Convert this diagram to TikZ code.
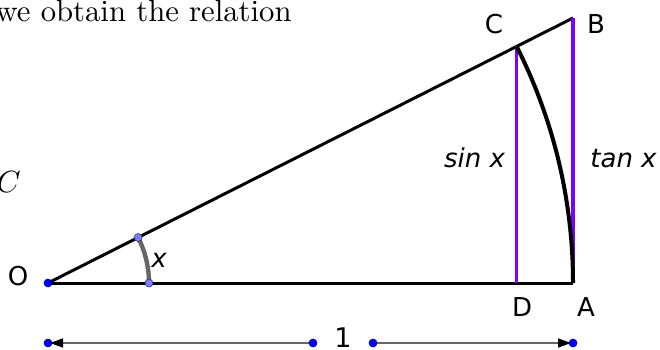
\documentclass[tikz,border=0pt]{standalone}
\usepackage{fontspec}
\newfontfamily\labelfont{DejaVu Sans}
\usepackage{xcolor}
\usetikzlibrary{calc,arrows.meta}

\definecolor{violetline}{RGB}{127,0,255}
\definecolor{ptblue}{RGB}{0,0,255}
\definecolor{ptlight}{RGB}{125,125,255}
\definecolor{arcgray}{RGB}{102,102,102}

\tikzset{
  side/.style={line width=3pt, black},
  vline/.style={line width=3.2pt, violetline},
  bigarc/.style={line width=4pt, black},
  anglearc/.style={line width=4.4pt, arcgray},
  dimline/.style={line width=1.6pt, arcgray, shorten >=2pt,
                  -{Triangle[length=13pt,width=9pt,black]}},
  ptdot/.style={fill=ptblue, draw=ptblue!50!black, line width=0.6pt},
  lightdot/.style={fill=ptlight, draw=ptlight!40!black, line width=0.6pt},
  lbl/.style={font=\labelfont\fontsize{26}{30}\selectfont, inner sep=0pt},
  txt/.style={font=\fontsize{10}{12}\selectfont, inner sep=0pt, scale=3.07}
}

\begin{document}
\begin{tikzpicture}[x=1pt,y=1pt]
    \useasboundingbox (0,0) rectangle (660,349);

    % text of the page
    \node[txt, anchor=base west] (relation) at (-5,327) {we obtain the relation};
    \node[txt, anchor=base west] (mathC) at (-4,157) {$C$};

    % triangle points
    \coordinate (O) at (48,66);
    \coordinate (A) at (573,66);
    \coordinate (B) at (573,331);
    \coordinate (C) at ($(O)+(26.78:525)$);
    \coordinate (D) at (C |- A);
    \coordinate (P) at ($(O)+(101,0)$);
    \coordinate (Q) at ($(O)+(26.78:101)$);

    \draw[side] (O) -- (A);
    \draw[side] (O) -- (B);
    \draw[vline] (C) -- (D);
    \draw[vline] (B) -- (A);
    \draw[bigarc] (C) arc[start angle=26.78, end angle=0, radius=525pt];
    \draw[anglearc] (Q) arc[start angle=26.78, end angle=0, radius=101pt];

    \foreach \p in {P,Q}
        \filldraw[lightdot] (\p) circle[radius=4pt];

    % labels
    \node[lbl] (labO) at (18,73) {O};
    \node[lbl] (labC) at (494,325) {C};
    \node[lbl] (labB) at (596,325) {B};
    \node[lbl] (labD) at (522,42) {D};
    \node[lbl] (labA) at (586,42) {A};
    \node[lbl, anchor=base] (labsin) at (474.5,182) {\itshape sin x};
    \node[lbl, anchor=base] (labtan) at (623.5,182) {\itshape tan x};
    \node[lbl, anchor=base] (labx) at (159,82) {\itshape x};

    % unit length
    \coordinate (L1) at (48,6);
    \coordinate (L2) at (313,6);
    \coordinate (R1) at (373,6);
    \coordinate (R2) at (573,6);
    \node[lbl, anchor=base, font=\labelfont\fontsize{27}{30}\selectfont] (one) at (343,2) {1};

    \draw[dimline] (L2) -- (L1);
    \draw[dimline] (R1) -- (R2);

    \foreach \p in {O,L1,L2,R1,R2}
        \filldraw[ptdot] (\p) circle[radius=4pt];
\end{tikzpicture}
\end{document}
